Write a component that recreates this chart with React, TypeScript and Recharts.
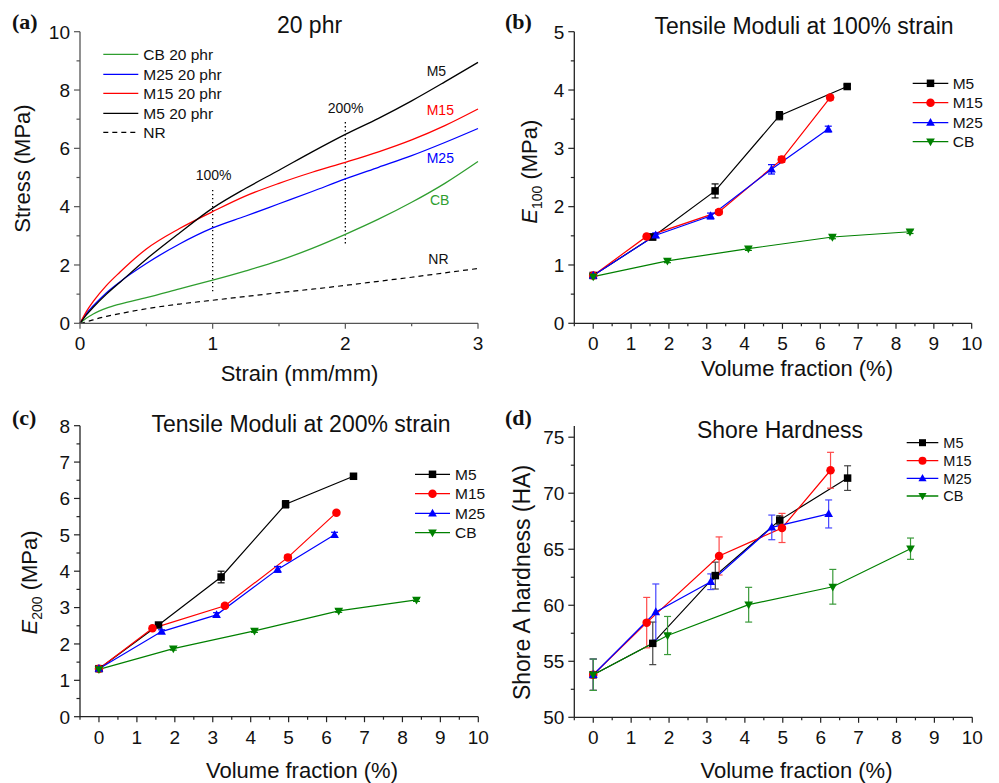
import React from "react";
import { LineChart, Line, XAxis, YAxis, ReferenceLine, ErrorBar } from "recharts";

// ---- (a) stress-strain curves, 20 phr ----
const strainPts = [0, 0.05, 0.1, 0.2, 0.3, 0.5, 0.75, 1, 1.25, 1.5, 1.75, 2, 2.25, 2.5, 2.75, 3];
const stressM5 = [0, 0.3, 0.55, 1.0, 1.4, 2.2, 3.1, 3.95, 4.63, 5.25, 5.88, 6.48, 7.03, 7.63, 8.28, 8.95];
const stressM15 = [0, 0.42, 0.75, 1.3, 1.75, 2.55, 3.25, 3.83, 4.37, 4.8, 5.18, 5.52, 5.88, 6.29, 6.78, 7.35];
const stressM25 = [0, 0.35, 0.6, 1.05, 1.42, 2.05, 2.72, 3.27, 3.68, 4.1, 4.52, 4.95, 5.35, 5.75, 6.2, 6.68];
const stressCB = [0, 0.18, 0.32, 0.52, 0.66, 0.88, 1.18, 1.48, 1.8, 2.15, 2.57, 3.05, 3.57, 4.15, 4.8, 5.55];
const stressNR = [0, 0.05, 0.12, 0.24, 0.33, 0.5, 0.66, 0.79, 0.92, 1.05, 1.17, 1.3, 1.44, 1.58, 1.73, 1.88];

// ---- volume fractions (%) per filler ----
const vfM5 = [0, 1.57, 3.22, 4.92, 6.71];
const vfM15 = [0, 1.41, 3.32, 4.98, 6.26];
const vfM25 = [0, 1.65, 3.1, 4.71, 6.21];
const vfCB = [0, 1.96, 4.1, 6.32, 8.37];

// ---- (b) E100 ----
const e100M5 = [0.82, 1.48, 2.27, 3.56, 4.06];
const e100M5Err = [0.03, 0.05, 0.12, 0.07, 0.03];
const e100M15 = [0.82, 1.49, 1.91, 2.81, 3.87];
const e100M15Err = [0.03, 0.03, 0.04, 0.05, 0.04];
const e100M25 = [0.82, 1.51, 1.84, 2.64, 3.33];
const e100M25Err = [0.03, 0.04, 0.05, 0.08, 0.05];
const e100CB = [0.8, 1.07, 1.28, 1.48, 1.57];
const e100CBErr = [0.03, 0.03, 0.03, 0.03, 0.03];

// ---- (c) E200 ----
const e200M5 = [1.32, 2.52, 3.84, 5.84, 6.61];
const e200M5Err = [0.05, 0.05, 0.16, 0.1, 0.04];
const e200M15 = [1.32, 2.43, 3.05, 4.38, 5.61];
const e200M15Err = [0.05, 0.04, 0.05, 0.06, 0.05];
const e200M25 = [1.32, 2.34, 2.8, 4.05, 5.0];
const e200M25Err = [0.05, 0.05, 0.06, 0.08, 0.07];
const e200CB = [1.3, 1.87, 2.36, 2.91, 3.21];
const e200CBErr = [0.05, 0.04, 0.04, 0.04, 0.04];

// ---- (d) Shore A hardness ----
const shoreM5 = [53.8, 56.6, 62.65, 67.6, 71.35];
const shoreM5Err = [1.4, 1.9, 1.2, 0.4, 1.1];
const shoreM15 = [53.8, 58.45, 64.4, 66.9, 72.05];
const shoreM15Err = [1.4, 2.25, 1.7, 1.3, 1.6];
const shoreM25 = [53.8, 59.4, 62.1, 66.95, 68.15];
const shoreM25Err = [1.4, 2.5, 0.7, 1.1, 1.25];
const shoreCB = [53.8, 57.3, 60.05, 61.65, 65.05];
const shoreCBErr = [1.4, 1.7, 1.55, 1.55, 0.95];

// ---- ticks ----
const stressTicks = [0, 1, 2, 3, 4, 5, 6, 7, 8, 9, 10];
const strainTicks = [0, 0.5, 1, 1.5, 2, 2.5, 3];
const vfTicks = [-0.5, 0, 0.5, 1, 1.5, 2, 2.5, 3, 3.5, 4, 4.5, 5, 5.5, 6, 6.5, 7, 7.5, 8, 8.5, 9, 9.5, 10];
const e100Ticks = [0, 0.5, 1, 1.5, 2, 2.5, 3, 3.5, 4, 4.5, 5];
const e200Ticks = [0, 0.5, 1, 1.5, 2, 2.5, 3, 3.5, 4, 4.5, 5, 5.5, 6, 6.5, 7, 7.5, 8];
const shoreTicks = [50, 52.5, 55, 57.5, 60, 62.5, 65, 67.5, 70, 72.5, 75];

const FONT = "'Liberation Sans', Arial, sans-serif";
const SERIF = "'Liberation Serif', 'Times New Roman', serif";
const GREEN_A = "#2f9e2f";
const GREEN = "#008000";

const curveData = strainPts.map((s, i) => ({
  strain: s,
  m5: stressM5[i],
  m15: stressM15[i],
  m25: stressM25[i],
  cb: stressCB[i],
  nr: stressNR[i],
}));

const pts = (xs: number[], ys: number[], errs: number[]) =>
  xs.map((x, i) => ({ x, y: ys[i], err: errs[i] }));

const isMajor = (v: number, step: number) => Math.abs(v / step - Math.round(v / step)) < 1e-6;

const makeYTick = (step: number, color: string) => (props: any) => {
  const { x, y, payload } = props;
  const v = payload.value;
  const major = isMajor(v, step);
  const len = major ? 6 : 3.5;
  return (
    <g>
      <line x1={x - len} x2={x} y1={y} y2={y} stroke={color} strokeWidth={1.2} />
      {major && (
        <text x={x - 10} y={y + 6.8} textAnchor="end" fontSize={19} fontFamily={FONT} fill="#111">
          {v}
        </text>
      )}
    </g>
  );
};

const makeXTick = (step: number, color: string) => (props: any) => {
  const { x, y, payload } = props;
  const v = payload.value;
  const major = isMajor(v, step);
  const len = major ? 5.5 : 3;
  return (
    <g>
      <line x1={x} x2={x} y1={y} y2={y + len} stroke={color} strokeWidth={1.2} />
      {major && (
        <text x={x} y={y + 27} textAnchor="middle" fontSize={19} fontFamily={FONT} fill="#111">
          {v}
        </text>
      )}
    </g>
  );
};

type Shape = "square" | "circle" | "up" | "down";

const Marker = ({ shape, cx, cy, color, size }: { shape: Shape; cx: number; cy: number; color: string; size: number }) => {
  if (cx == null || cy == null) return null;
  const s = size;
  if (shape === "square") return <rect x={cx - s / 2} y={cy - s / 2} width={s} height={s} fill={color} />;
  if (shape === "circle") return <circle cx={cx} cy={cy} r={s / 2 + 0.5} fill={color} />;
  if (shape === "up")
    return <polygon points={`${cx},${cy - s * 0.62} ${cx - s * 0.58},${cy + s * 0.42} ${cx + s * 0.58},${cy + s * 0.42}`} fill={color} />;
  return <polygon points={`${cx},${cy + s * 0.62} ${cx - s * 0.58},${cy - s * 0.42} ${cx + s * 0.58},${cy - s * 0.42}`} fill={color} />;
};

interface SeriesDef {
  name: string;
  data: { x: number; y: number; err: number }[];
  color: string;
  errColor: string;
  shape: Shape;
}

const seriesFor = (
  m5: number[], m5e: number[], m15: number[], m15e: number[],
  m25: number[], m25e: number[], cb: number[], cbe: number[], dim: boolean
): SeriesDef[] => [
  { name: "M5", data: pts(vfM5, m5, m5e), color: "#000", errColor: dim ? "#444" : "#000", shape: "square" },
  { name: "M15", data: pts(vfM15, m15, m15e), color: "#ff0000", errColor: dim ? "#ff4a4a" : "#ff0000", shape: "circle" },
  { name: "M25", data: pts(vfM25, m25, m25e), color: "#0000ff", errColor: dim ? "#4646ff" : "#0000ff", shape: "up" },
  { name: "CB", data: pts(vfCB, cb, cbe), color: GREEN, errColor: dim ? "#3a9a3a" : GREEN, shape: "down" },
];

const seriesB = seriesFor(e100M5, e100M5Err, e100M15, e100M15Err, e100M25, e100M25Err, e100CB, e100CBErr, false);
const seriesC = seriesFor(e200M5, e200M5Err, e200M15, e200M15Err, e200M25, e200M25Err, e200CB, e200CBErr, false);
const seriesD = seriesFor(shoreM5, shoreM5Err, shoreM15, shoreM15Err, shoreM25, shoreM25Err, shoreCB, shoreCBErr, true);

const ModulusPanel = ({
  width, height, margin, domain, ticks, step, series, markerSize,
}: {
  width: number; height: number; margin: any; domain: [number, number]; ticks: number[]; step: number;
  series: SeriesDef[]; markerSize: number;
}) => {
  const axisColor = "#222";
  return (
    <LineChart width={width} height={height} margin={margin}>
      <XAxis
        dataKey="x"
        type="number"
        domain={[-0.5, 10]}
        ticks={vfTicks}
        interval={0}
        tickSize={0}
        tickMargin={0}
        tickLine={false}
        height={30}
        axisLine={{ stroke: axisColor, strokeWidth: 1.3 }}
        tick={makeXTick(1, axisColor)}
        allowDataOverflow
      />
      <YAxis
        type="number"
        domain={domain}
        ticks={ticks}
        interval={0}
        tickSize={0}
        tickMargin={0}
        tickLine={false}
        width={40}
        axisLine={{ stroke: axisColor, strokeWidth: 1.3 }}
        tick={makeYTick(step, axisColor)}
        allowDataOverflow
      />
      {series.map((s) => (
        <Line
          key={s.name}
          data={s.data}
          dataKey="y"
          type="linear"
          stroke={s.color}
          strokeWidth={1.2}
          isAnimationActive={false}
          activeDot={false}
          dot={(p: any) => (
            <Marker key={`${s.name}-${p.index}`} shape={s.shape} cx={p.cx} cy={p.cy} color={s.color} size={markerSize} />
          )}
        >
          <ErrorBar dataKey="err" direction="y" width={3.5} stroke={s.errColor} strokeWidth={1.2} />
        </Line>
      ))}
    </LineChart>
  );
};

const LegendRows = ({
  x1, x2, tx, rows, fontSize, markerSize,
}: {
  x1: number; x2: number; tx: number; rows: { label: string; y: number; color: string; shape: Shape }[];
  fontSize: number; markerSize: number;
}) => (
  <g>
    {rows.map((r) => (
      <g key={r.label}>
        <line x1={x1} x2={x2} y1={r.y} y2={r.y} stroke={r.color} strokeWidth={1.3} />
        <Marker shape={r.shape} cx={(x1 + x2) / 2} cy={r.y} color={r.color} size={markerSize} />
        <text x={tx} y={r.y + fontSize * 0.36} fontSize={fontSize} fontFamily={FONT} fill="#111">
          {r.label}
        </text>
      </g>
    ))}
  </g>
);

const legendRows = (ys: number[]) => [
  { label: "M5", y: ys[0], color: "#000", shape: "square" as Shape },
  { label: "M15", y: ys[1], color: "#ff0000", shape: "circle" as Shape },
  { label: "M25", y: ys[2], color: "#0000ff", shape: "up" as Shape },
  { label: "CB", y: ys[3], color: GREEN, shape: "down" as Shape },
];

const App = () => {
  const axisA = "#555";
  return (
    <div style={{ position: "absolute", left: 0, top: 0, width: 999, height: 783, background: "#fff" }}>
      {/* (a) */}
      <div style={{ position: "absolute", left: 0, top: 0 }}>
        <LineChart width={490} height={390} data={curveData} margin={{ top: 31.7, right: 12, left: 40, bottom: 36.7 }}>
          <XAxis
            dataKey="strain"
            type="number"
            domain={[0, 3]}
            ticks={strainTicks}
            interval={0}
            tickSize={0}
            tickMargin={0}
            tickLine={false}
            height={30}
            axisLine={{ stroke: axisA, strokeWidth: 1.3 }}
            tick={makeXTick(1, axisA)}
          />
          <YAxis
            type="number"
            domain={[0, 10]}
            ticks={stressTicks}
            interval={0}
            tickSize={0}
            tickMargin={0}
            tickLine={false}
            width={40}
            axisLine={{ stroke: axisA, strokeWidth: 1.3 }}
            tick={makeYTick(2, axisA)}
          />
          <ReferenceLine segment={[{ x: 1, y: 1.1 }, { x: 1, y: 4.62 }]} stroke="#000" strokeWidth={1.3} strokeDasharray="1.3 2.7" />
          <ReferenceLine segment={[{ x: 2, y: 2.74 }, { x: 2, y: 6.9 }]} stroke="#000" strokeWidth={1.3} strokeDasharray="1.3 2.7" />
          <Line dataKey="nr" type="monotone" stroke="#000" strokeWidth={1.2} strokeDasharray="5 4" dot={false} activeDot={false} isAnimationActive={false} />
          <Line dataKey="cb" type="monotone" stroke={GREEN_A} strokeWidth={1.3} dot={false} activeDot={false} isAnimationActive={false} />
          <Line dataKey="m25" type="monotone" stroke="#0000ff" strokeWidth={1.3} dot={false} activeDot={false} isAnimationActive={false} />
          <Line dataKey="m15" type="monotone" stroke="#ff0000" strokeWidth={1.3} dot={false} activeDot={false} isAnimationActive={false} />
          <Line dataKey="m5" type="monotone" stroke="#000" strokeWidth={1.3} dot={false} activeDot={false} isAnimationActive={false} />
        </LineChart>
      </div>

      {/* (b) */}
      <div style={{ position: "absolute", left: 490, top: 0 }}>
        <ModulusPanel
          width={509}
          height={390}
          margin={{ top: 31.7, right: 27.3, left: 44.3, bottom: 36.7 }}
          domain={[0, 5]}
          ticks={e100Ticks}
          step={1}
          series={seriesB}
          markerSize={7.5}
        />
      </div>

      {/* (c) */}
      <div style={{ position: "absolute", left: 0, top: 390 }}>
        <ModulusPanel
          width={490}
          height={393}
          margin={{ top: 35.7, right: 11.7, left: 40, bottom: 36.3 }}
          domain={[0, 8]}
          ticks={e200Ticks}
          step={1}
          series={seriesC}
          markerSize={7.5}
        />
      </div>

      {/* (d) */}
      <div style={{ position: "absolute", left: 490, top: 390 }}>
        <ModulusPanel
          width={509}
          height={393}
          margin={{ top: 36, right: 26.7, left: 44.3, bottom: 35.7 }}
          domain={[50, 76]}
          ticks={shoreTicks}
          step={5}
          series={seriesD}
          markerSize={7.5}
        />
      </div>

      {/* text overlay */}
      <svg width={999} height={783} style={{ position: "absolute", left: 0, top: 0, pointerEvents: "none" }}>
        {/* panel letters */}
        <text x={12} y={28.5} fontSize={22} fontWeight="bold" fontFamily={SERIF} fill="#111">(a)</text>
        <text x={505} y={29} fontSize={22} fontWeight="bold" fontFamily={SERIF} fill="#111">(b)</text>
        <text x={12} y={424.5} fontSize={22} fontWeight="bold" fontFamily={SERIF} fill="#111">(c)</text>
        <text x={505} y={425} fontSize={22} fontWeight="bold" fontFamily={SERIF} fill="#111">(d)</text>

        {/* titles */}
        <text x={309.5} y={33.3} textAnchor="middle" fontSize={23} fontFamily={FONT} fill="#111">20 phr</text>
        <text x={804} y={34.3} textAnchor="middle" fontSize={23} fontFamily={FONT} fill="#111">Tensile Moduli at 100% strain</text>
        <text x={301} y={431.7} textAnchor="middle" fontSize={23} fontFamily={FONT} fill="#111">Tensile Moduli at 200% strain</text>
        <text x={780} y={438.3} textAnchor="middle" fontSize={23} fontFamily={FONT} fill="#111">Shore Hardness</text>

        {/* x axis titles */}
        <text x={299.5} y={381} textAnchor="middle" fontSize={22} fontFamily={FONT} fill="#111">Strain (mm/mm)</text>
        <text x={797} y={376} textAnchor="middle" fontSize={22} fontFamily={FONT} fill="#111">Volume fraction (%)</text>
        <text x={302} y={778} textAnchor="middle" fontSize={22} fontFamily={FONT} fill="#111">Volume fraction (%)</text>
        <text x={796.5} y={778} textAnchor="middle" fontSize={22} fontFamily={FONT} fill="#111">Volume fraction (%)</text>

        {/* y axis titles */}
        <text transform="translate(30,168.5) rotate(-90)" textAnchor="middle" fontSize={22} fontFamily={FONT} fill="#111">Stress (MPa)</text>
        <text transform="translate(536.7,171.7) rotate(-90)" textAnchor="middle" fontSize={22} fontFamily={FONT} fill="#111">
          <tspan fontStyle="italic">E</tspan>
          <tspan fontSize={14} dy={5}>100</tspan>
          <tspan dy={-5}> (MPa)</tspan>
        </text>
        <text transform="translate(37,582.5) rotate(-90)" textAnchor="middle" fontSize={22} fontFamily={FONT} fill="#111">
          <tspan fontStyle="italic">E</tspan>
          <tspan fontSize={14} dy={5}>200</tspan>
          <tspan dy={-5}> (MPa)</tspan>
        </text>
        <text transform="translate(530,582.5) rotate(-90)" textAnchor="middle" fontSize={23} fontFamily={FONT} fill="#111">Shore A hardness (HA)</text>

        {/* (a) legend */}
        {[
          { label: "CB 20 phr", y: 54.3, color: GREEN_A, dash: undefined },
          { label: "M25 20 phr", y: 74.3, color: "#0000ff", dash: undefined },
          { label: "M15 20 phr", y: 93.3, color: "#ff0000", dash: undefined },
          { label: "M5 20 phr", y: 113.3, color: "#000", dash: undefined },
          { label: "NR", y: 132.3, color: "#000", dash: "5 4" },
        ].map((r) => (
          <g key={r.label}>
            <line x1={103.3} x2={138.3} y1={r.y} y2={r.y} stroke={r.color} strokeWidth={1.3} strokeDasharray={r.dash} />
            <text x={143.3} y={r.y + 5.6} fontSize={15.5} fontFamily={FONT} fill="#111">{r.label}</text>
          </g>
        ))}

        {/* (a) curve annotations */}
        <text x={426.7} y={76} fontSize={14} fontFamily={FONT} fill="#111">M5</text>
        <text x={327.7} y={112.7} fontSize={14} fontFamily={FONT} fill="#111">200%</text>
        <text x={426.7} y={115} fontSize={14} fontFamily={FONT} fill="#ff0000">M15</text>
        <text x={426.7} y={162.7} fontSize={14} fontFamily={FONT} fill="#0000ff">M25</text>
        <text x={195.7} y={180} fontSize={14} fontFamily={FONT} fill="#111">100%</text>
        <text x={430} y={205} fontSize={14} fontFamily={FONT} fill={GREEN_A}>CB</text>
        <text x={428.3} y={264} fontSize={14} fontFamily={FONT} fill="#111">NR</text>

        {/* legends b, c, d */}
        <LegendRows x1={912.7} x2={948.3} tx={952.7} rows={legendRows([83.3, 102.7, 122.7, 141.7])} fontSize={15.5} markerSize={7.5} />
        <LegendRows x1={415} x2={450} tx={455} rows={legendRows([474.3, 493.7, 513.3, 532.7])} fontSize={15.5} markerSize={7.5} />
        <LegendRows x1={906.7} x2={938.3} tx={943.3} rows={legendRows([442.7, 460.7, 478.3, 496])} fontSize={14.5} markerSize={7} />
      </svg>
    </div>
  );
};

export default App;
